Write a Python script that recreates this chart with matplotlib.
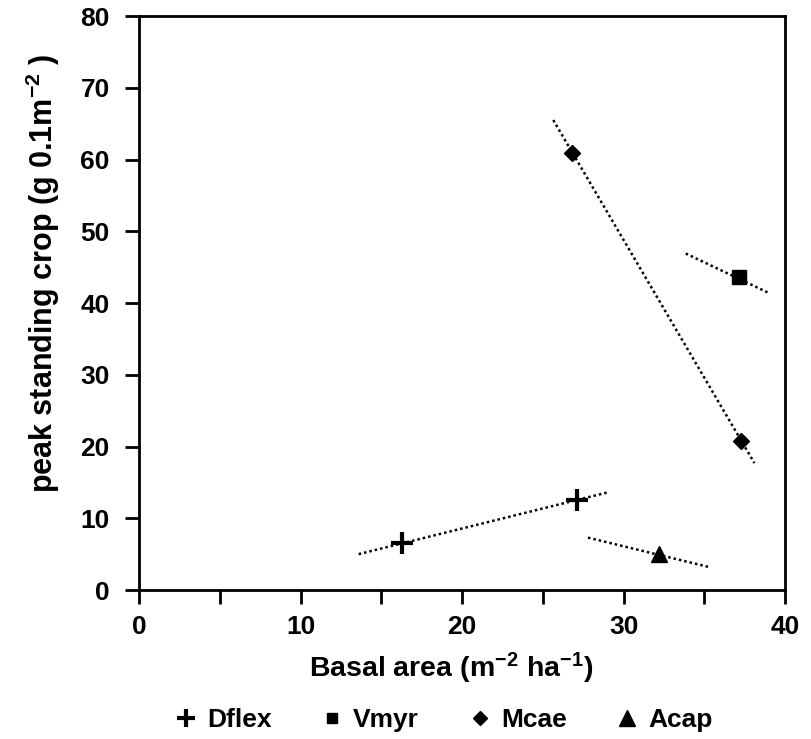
import matplotlib
matplotlib.use("Agg")
import matplotlib.pyplot as plt
from matplotlib.lines import Line2D

plt.rcParams['font.family'] = ['Liberation Sans', 'DejaVu Sans']
plt.rcParams['font.weight'] = 'bold'
plt.rcParams['mathtext.default'] = 'regular'

# species points (basal area, peak standing crop)
species = ["Dflex", "Vmyr", "Mcae", "Acap"]
dflex_x = [16.3, 27.1]
dflex_y = [6.5, 12.5]
vmyr_x = [37.15]
vmyr_y = [43.6]
mcae_x = [26.8, 37.3]
mcae_y = [60.9, 20.7]
acap_x = [32.2]
acap_y = [5.0]

# dotted trend lines (end points)
dflex_fit_x = [13.6, 29.0]
dflex_fit_y = [5.0, 13.6]
vmyr_fit_x = [33.85, 38.95]
vmyr_fit_y = [46.9, 41.45]
mcae_fit_x = [25.65, 38.1]
mcae_fit_y = [65.5, 17.7]
acap_fit_x = [27.8, 35.3]
acap_fit_y = [7.3, 3.2]

fig = plt.figure(figsize=(8.11, 7.39), dpi=100)
ax = fig.add_axes([0.1714, 0.2016, 0.7966, 0.7767])

line_kw = dict(color="black", lw=1.8, linestyle=(0, (1, 1.2)))
ax.plot(dflex_fit_x, dflex_fit_y, **line_kw)
ax.plot(vmyr_fit_x, vmyr_fit_y, **line_kw)
ax.plot(mcae_fit_x, mcae_fit_y, **line_kw)
ax.plot(acap_fit_x, acap_fit_y, **line_kw)

ax.plot(dflex_x, dflex_y, linestyle="none", marker="+", ms=16, mew=3, color="black")
ax.plot(vmyr_x, vmyr_y, linestyle="none", marker="s", ms=10, color="black")
ax.plot(mcae_x, mcae_y, linestyle="none", marker="D", ms=8, color="black")
ax.plot(acap_x, acap_y, linestyle="none", marker="^", ms=11, color="black")

ax.set_xlim(0, 40)
ax.set_ylim(0, 80)
ax.set_xticks(range(0, 41, 10))
ax.set_xticks(range(5, 40, 10), minor=True)
ax.set_yticks(range(0, 81, 10))
ax.tick_params(which="both", direction="out", length=10, width=2, labelsize=19)
ax.tick_params(axis="x", pad=8)
ax.tick_params(axis="y", pad=11)
for s in ax.spines.values():
    s.set_linewidth(2)

ax.set_xlabel("Basal area (m$^{-2}$ ha$^{-1}$)", fontsize=20.5, fontweight="bold", va="center")
ax.set_ylabel("peak standing crop (g 0.1m$^{-2}$ )", fontsize=22, fontweight="bold", va="center")
ax.xaxis.set_label_coords(0.483, -0.136)
ax.yaxis.set_label_coords(-0.149, 0.552)

handles = [
    Line2D([], [], linestyle="none", marker="+", ms=13, mew=3, color="black"),
    Line2D([], [], linestyle="none", marker="s", ms=7, color="black"),
    Line2D([], [], linestyle="none", marker="D", ms=7, color="black"),
    Line2D([], [], linestyle="none", marker="^", ms=11, color="black"),
]
fig.legend(handles, species, loc="center", bbox_to_anchor=(0.546, 0.026), ncol=4,
           frameon=False, fontsize=19, handlelength=1, handletextpad=0.3,
           columnspacing=1.8)

fig.savefig("out.png", dpi=100)
